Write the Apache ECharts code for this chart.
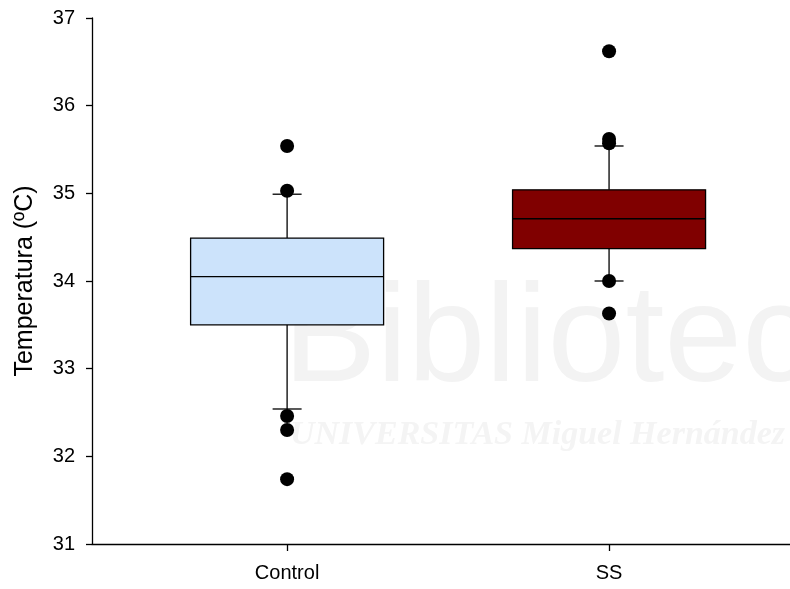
<!DOCTYPE html>
<html><head><meta charset="utf-8">
<script src="https://cdn.jsdelivr.net/npm/echarts@6/dist/echarts.min.js"></script>
<style>html,body{margin:0;padding:0;background:#fff}#c{width:790px;height:589px}</style>
</head><body><div id="c"></div>
<script>
const categories = ['Control', 'SS'];
const categoryPositions = [1, 2];
// [lower whisker, Q1, median, Q3, upper whisker]
const controlBox = [32.54, 33.50, 34.05, 34.49, 34.99];
const ssBox = [34.00, 34.37, 34.71, 35.04, 35.54];
const controlOutliers = [35.54, 35.03, 32.46, 32.30, 31.74];
const ssOutliers = [36.62, 35.62, 35.57, 34.00, 33.63];
const yMin = 31, yMax = 37, yStep = 1;
const boxColors = ['#cce3fb', '#800000'];

const boxes = [controlBox, ssBox];
const outliers = [controlOutliers, ssOutliers];
const boxData = boxes.map((b, i) => [categoryPositions[i]].concat(b));
const outlierData = [];
outliers.forEach((arr, i) => arr.forEach(v => outlierData.push([categoryPositions[i], v])));

const FONT = 'Liberation Sans, Arial, sans-serif';
const chart = echarts.init(document.getElementById('c'), null, {renderer: 'canvas'});
chart.setOption({
  animation: false,
  backgroundColor: '#fff',
  graphic: [
    {type: 'text', left: 283, top: 272, z: -10, silent: true,
     style: {text: 'Biblioteca', font: '140px Liberation Sans, Arial, sans-serif', fill: '#f3f3f3'}},
    {type: 'text', left: 290, top: 418, z: -10, silent: true,
     style: {text: 'UNIVERSITAS Miguel Hernández', font: 'italic bold 34px Liberation Serif, serif', fill: '#f4f4f4'}}
  ],
  grid: {left: 92, right: 0, top: 18, bottom: 45, containLabel: false},
  xAxis: {
    type: 'value', min: 0.394, max: 2.562,
    axisLine: {show: true, lineStyle: {color: '#000', width: 1.3}},
    axisTick: {show: true, customValues: categoryPositions, length: 7, lineStyle: {color: '#000', width: 1.3}},
    axisLabel: {show: true, customValues: categoryPositions, margin: 19, color: '#000', fontSize: 20, fontFamily: FONT,
      formatter: v => categories[categoryPositions.indexOf(v)] || ''},
    splitLine: {show: false}
  },
  yAxis: {
    type: 'value', min: yMin, max: yMax, interval: yStep,
    name: 'Temperatura (ºC)', nameLocation: 'middle', nameGap: 54,
    nameTextStyle: {color: '#000', fontSize: 25, fontFamily: FONT},
    axisLine: {show: true, lineStyle: {color: '#000', width: 1.3}},
    axisTick: {show: true, length: 6, lineStyle: {color: '#000', width: 1.3}},
    axisLabel: {margin: 17, color: '#000', fontSize: 20, fontFamily: FONT},
    splitLine: {show: false}
  },
  series: [
    {
      type: 'custom',
      data: boxData,
      encode: {x: 0, y: [1, 2, 3, 4, 5]},
      z: 2,
      renderItem: function (params, api) {
        const x = api.value(0);
        const lo = api.coord([x, api.value(1)]);
        const q1 = api.coord([x, api.value(2)]);
        const md = api.coord([x, api.value(3)]);
        const q3 = api.coord([x, api.value(4)]);
        const hi = api.coord([x, api.value(5)]);
        const hw = 96.5, cw = 14.5;
        const ls = {stroke: '#000', lineWidth: 1.3};
        const cx = q1[0];
        return {type: 'group', children: [
          {type: 'line', shape: {x1: cx, y1: hi[1], x2: cx, y2: q3[1]}, style: ls},
          {type: 'line', shape: {x1: cx, y1: lo[1], x2: cx, y2: q1[1]}, style: ls},
          {type: 'line', shape: {x1: cx - cw, y1: hi[1], x2: cx + cw, y2: hi[1]}, style: ls},
          {type: 'line', shape: {x1: cx - cw, y1: lo[1], x2: cx + cw, y2: lo[1]}, style: ls},
          {type: 'rect', shape: {x: cx - hw, y: q3[1], width: 2 * hw, height: q1[1] - q3[1]},
           style: {fill: boxColors[params.dataIndex], stroke: '#000', lineWidth: 1.3}},
          {type: 'line', shape: {x1: cx - hw, y1: md[1], x2: cx + hw, y2: md[1]}, style: ls}
        ]};
      }
    },
    {
      type: 'scatter',
      data: outlierData,
      symbol: 'circle',
      symbolSize: 14,
      z: 3,
      itemStyle: {color: '#000', opacity: 1}
    }
  ]
});
</script>
</body></html>
